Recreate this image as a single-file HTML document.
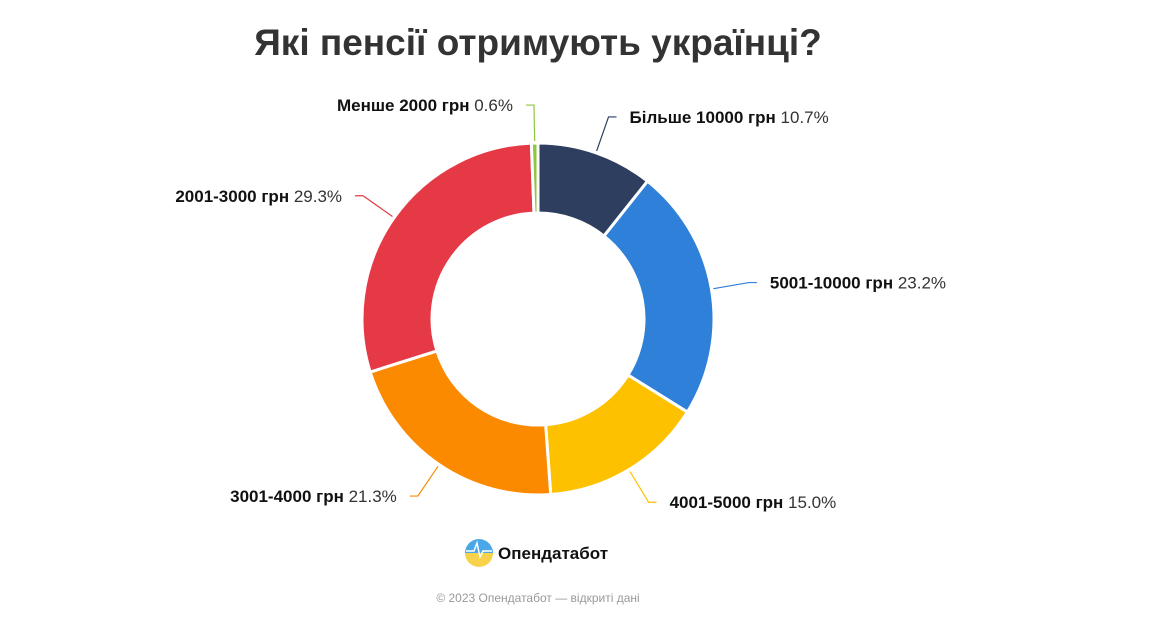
<!DOCTYPE html>
<html><head><meta charset="utf-8"><style>
body{margin:0;background:#fff;width:1150px;height:625px;overflow:hidden;font-family:"Liberation Sans","DejaVu Sans",sans-serif}
</style></head><body>
<svg width="1150" height="625">
<text x="538" y="55" text-anchor="middle" font-size="37" font-weight="bold" fill="#333">Які пенсії отримують українці?</text>
<g id="slices"></g><g id="labels"></g>
<g>
<defs><linearGradient id="lg" x1="0" y1="0" x2="0" y2="1"><stop offset="0.5" stop-color="#4aa8e8"/><stop offset="0.5" stop-color="#f7d24a"/></linearGradient></defs>
<circle cx="479" cy="553" r="14" fill="url(#lg)"/>
<path d="M466 551 L474 551 L477 543 L480 557 L483 551 L492 551" stroke="#fff" stroke-width="1.5" fill="none"/>
<text x="498" y="559" font-size="17" font-weight="bold" fill="#111">Опендатабот</text>
</g>
<text x="538" y="602" text-anchor="middle" font-size="12" fill="#999">© 2023 Опендатабот — відкриті дані</text>
</svg>
<script>
const categories=["Більше 10000 грн","5001-10000 грн","4001-5000 грн","3001-4000 грн","2001-3000 грн","Менше 2000 грн"];
const values=[10.7,23.2,15.0,21.3,29.3,0.6];
const colors=["#2d3e5e","#2f80d8","#fdc100","#fb8a00","#e63946","#8dc63f"];
const cx=538,cy=319,R=176,r=106,NS="http://www.w3.org/2000/svg";
const total=values.reduce((a,b)=>a+b,0);
const pt=(a,rad)=>[cx+rad*Math.sin(a),cy-rad*Math.cos(a)];
let acc=0;
const sg=document.getElementById('slices'),lg=document.getElementById('labels');
values.forEach((v,i)=>{
 const a0=acc/total*2*Math.PI;acc+=v;const a1=acc/total*2*Math.PI;
 const large=(a1-a0)>Math.PI?1:0;
 const [x0,y0]=pt(a0,R),[x1,y1]=pt(a1,R),[x2,y2]=pt(a1,r),[x3,y3]=pt(a0,r);
 const p=document.createElementNS(NS,'path');
 p.setAttribute('d',`M${x0} ${y0} A${R} ${R} 0 ${large} 1 ${x1} ${y1} L${x2} ${y2} A${r} ${r} 0 ${large} 0 ${x3} ${y3}Z`);
 p.setAttribute('fill',colors[i]);p.setAttribute('stroke','#fff');p.setAttribute('stroke-width','3');p.setAttribute('stroke-linejoin','round');
 
 
 sg.appendChild(p);
 const am=(a0+a1)/2,right=Math.sin(am)>=0;
 const [ax,ay]=pt(am,R+2),[ex,ey]=pt(am,R+38);
 const hx=ex+(right?8:-8);
 const l=document.createElementNS(NS,'polyline');
 l.setAttribute('points',`${ax},${ay} ${ex},${ey} ${hx},${ey}`);
 l.setAttribute('stroke',colors[i]);l.setAttribute('fill','none');l.setAttribute('stroke-width','1.2');
 
 
 lg.appendChild(l);
 const t=document.createElementNS(NS,'text');
 t.setAttribute('x',hx+(right?13:-13));t.setAttribute('y',ey+6);
 t.setAttribute('text-anchor',right?'start':'end');t.setAttribute('font-size','17');t.setAttribute('fill','#111');
 t.innerHTML=`<tspan font-weight="bold">${categories[i]}</tspan><tspan fill="#333"> ${v.toFixed(1)}%</tspan>`;
 
 
 lg.appendChild(t);
});
</script>
</body></html>
